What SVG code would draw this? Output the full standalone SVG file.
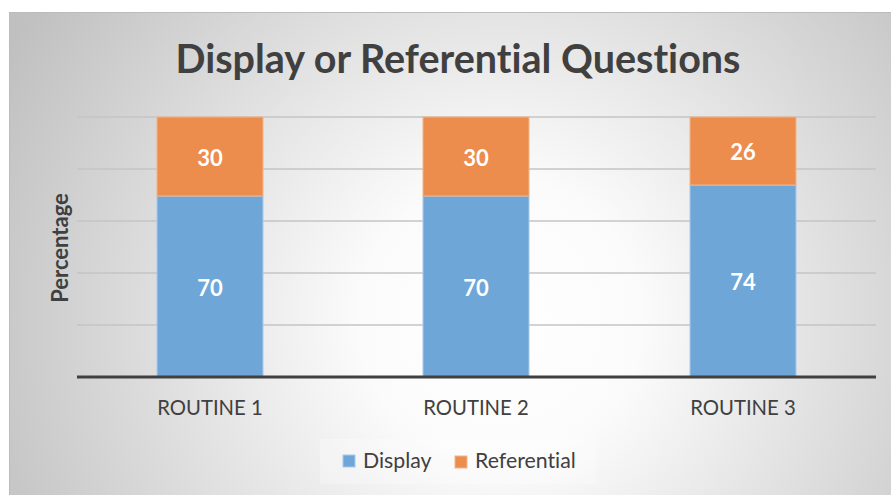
<svg xmlns="http://www.w3.org/2000/svg" width="891" height="495" viewBox="0 0 891 495">
  <defs>
    <radialGradient id="bg" gradientUnits="userSpaceOnUse" cx="500" cy="320" r="560">
      <stop offset="0" stop-color="#ffffff"/>
      <stop offset="0.25" stop-color="#fbfbfb"/>
      <stop offset="1" stop-color="#c0c0c0"/>
    </radialGradient>
    <style>
      text { font-variant-ligatures: none; }
      .grid { stroke: #c4c4c4; stroke-width: 1.3; }
      .disp { fill: #6fa6d8; stroke: #a9c9ea; stroke-width: 1; }
      .ref { fill: #ec8c4d; stroke: #f2b48a; stroke-width: 1; }
      .val { font-family: Lato, "Liberation Sans", sans-serif; font-weight: bold; font-size: 22px; fill: #ffffff; text-anchor: middle; }
      .cat { font-family: Lato, "Liberation Sans", sans-serif; font-size: 20.3px; fill: #404040; text-anchor: middle; }
      .leg { font-family: Lato, "Liberation Sans", sans-serif; font-size: 21.3px; fill: #404040; }
    </style>
  </defs>

  <!-- chart area -->
  <rect x="0" y="0" width="891" height="495" fill="#ffffff"/>
  <rect x="9" y="12" width="882" height="483" fill="url(#bg)"/>
  <line x1="9" y1="12.5" x2="891" y2="12.5" stroke="#bcbcbc" stroke-width="1"/>
  <line x1="9.5" y1="12" x2="9.5" y2="495" stroke="#bcbcbc" stroke-width="1"/>

  <text x="458" y="73" font-family="Lato, 'Liberation Sans', sans-serif" font-weight="bold" font-size="39.5" fill="#404040" text-anchor="middle">Display or Referential Questions</text>

  <!-- gridlines -->
  <g id="gridlines">
    <line class="grid" x1="77" y1="117" x2="876" y2="117"/>
    <line class="grid" x1="77" y1="169" x2="876" y2="169"/>
    <line class="grid" x1="77" y1="221" x2="876" y2="221"/>
    <line class="grid" x1="77" y1="273" x2="876" y2="273"/>
    <line class="grid" x1="77" y1="325" x2="876" y2="325"/>
  </g>

  <text transform="translate(68 248) rotate(-90)" font-family="Lato, 'Liberation Sans', sans-serif" font-weight="bold" font-size="22" fill="#404040" text-anchor="middle">Percentage</text>

  <g id="routine1">
    <rect class="disp" x="157" y="196" width="106" height="181"/>
    <rect class="ref" x="157" y="117" width="106" height="79"/>
    <text class="val" x="210" y="166">30</text>
    <text class="val" x="210" y="296">70</text>
    <text class="cat" x="210" y="415">ROUTINE 1</text>
  </g>
  <g id="routine2">
    <rect class="disp" x="423" y="196" width="106" height="181"/>
    <rect class="ref" x="423" y="117" width="106" height="79"/>
    <text class="val" x="476" y="166">30</text>
    <text class="val" x="476" y="296">70</text>
    <text class="cat" x="476" y="415">ROUTINE 2</text>
  </g>
  <g id="routine3">
    <rect class="disp" x="690" y="185" width="106" height="192"/>
    <rect class="ref" x="690" y="117" width="106" height="68"/>
    <text class="val" x="743" y="160">26</text>
    <text class="val" x="743" y="290">74</text>
    <text class="cat" x="743" y="415">ROUTINE 3</text>
  </g>

  <!-- category axis -->
  <line x1="77" y1="377" x2="876" y2="377" stroke="#404040" stroke-width="3"/>

  <g id="legend">
    <rect x="320" y="439" width="276" height="45" fill="#ffffff" fill-opacity="0.25"/>
    <rect x="343" y="455" width="12" height="12" class="disp"/>
    <text class="leg" x="363" y="468">Display</text>
    <rect x="455" y="456" width="12" height="12" class="ref"/>
    <text class="leg" x="475" y="468">Referential</text>
  </g>
</svg>
